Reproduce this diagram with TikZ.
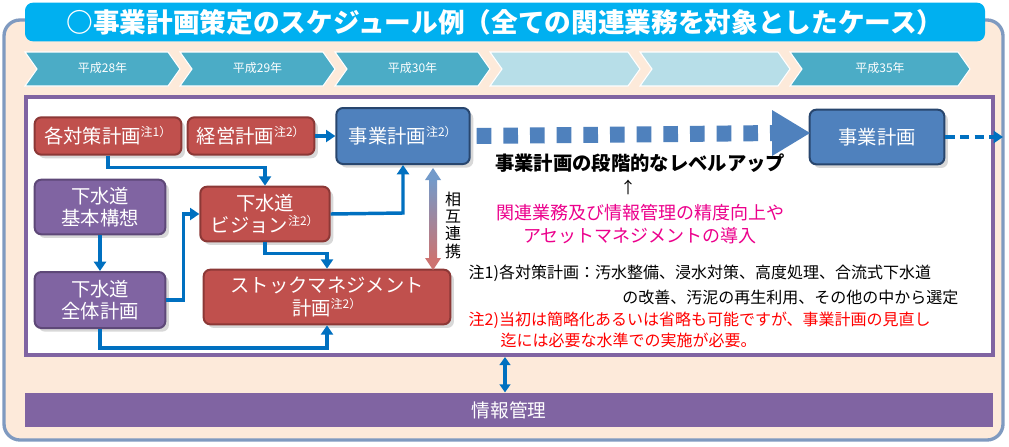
\documentclass[tikz,border=0pt]{standalone}
\usepackage{fontspec}
\setmainfont{Noto Sans CJK JP}
\usetikzlibrary{arrows.meta,shadows}
\definecolor{redfill}{RGB}{192,80,77}
\definecolor{redline}{RGB}{140,56,54}
\definecolor{purpfill}{RGB}{128,100,162}
\definecolor{purpline}{RGB}{94,72,120}
\definecolor{bluefill}{RGB}{79,129,189}
\definecolor{blueline}{RGB}{40,70,110}
\definecolor{arrowblue}{RGB}{0,112,192}
\definecolor{teal}{RGB}{75,172,198}
\definecolor{paleteal}{RGB}{183,222,232}
\definecolor{peach}{RGB}{253,234,218}
\definecolor{frameblue}{RGB}{127,154,192}
\definecolor{titlecyan}{RGB}{0,176,240}
\tikzset{
  redbox/.style={draw=redline,line width=1.5pt,fill=redfill,rounded corners=5pt,text=white,font=\fontsize{14.5}{17}\selectfont,align=center,inner sep=0pt,drop shadow={opacity=0.3}},
  purpbox/.style={redbox,draw=purpline,fill=purpfill},
  bluebox/.style={redbox,draw=blueline,fill=bluefill},
  flow/.style={arrowblue,line width=2.6pt,-{Triangle[length=7pt,width=9pt]}},
  chev/.style={draw=white,line width=0.8pt}
}
\newcommand{\note}[1]{\textsuperscript{\fontsize{9}{9}\selectfont 注#1）}}
\begin{document}
\begin{tikzpicture}[x=0.75pt,y=0.75pt,yscale=-1,xscale=1]
\useasboundingbox (0,0) rectangle (1009,446);
% frame
\draw [fill=peach,draw=frameblue,line width=2.5pt,rounded corners=12pt] (4,20) rectangle (1003,440);
\node [fill=titlecyan,rounded corners=6pt,minimum width=720pt,minimum height=29pt,text=white,font=\bfseries\fontsize{20}{24}\selectfont] (title) at (505,22) {○事業計画策定のスケジュール例（全ての関連業務を対象としたケース）};
% timeline
\foreach \xa/\xb/\col/\yr in {25/180/teal/平成28年,180/335/teal/平成29年,335/490/teal/平成30年,490/640/paleteal/,640/790/paleteal/,790/970/teal/平成35年}{
  \draw [chev,fill=\col] (\xa,52) -- (\xb-12,52) -- (\xb,69) -- (\xb-12,86) -- (\xa,86) -- (\xa+12,69) -- cycle;
  \node [text=white,font=\fontsize{9}{9}\selectfont] at ({(\xa+\xb)/2},68) {\yr};
}
% inner panel
\draw [fill=white,draw=purpfill,line width=3pt] (26,97) rectangle (993,355);
% boxes
\node [redbox,minimum width=110pt,minimum height=28pt] (taisaku) at (108,136) {各対策計画\note{1}};
\node [redbox,minimum width=95pt,minimum height=28pt] (keiei) at (251,136) {経営計画\note{2}};
\node [bluebox,minimum width=100pt,minimum height=42pt] (jigyo) at (403,136) {事業計画\note{2}};
\node [bluebox,minimum width=101pt,minimum height=41pt] (jigyo2) at (877,137) {事業計画};
\node [purpbox,minimum width=98pt,minimum height=41pt] (kousou) at (100,207) {下水道\\基本構想};
\node [purpbox,minimum width=98pt,minimum height=42pt] (zentai) at (100,300) {下水道\\全体計画};
\node [redbox,minimum width=97pt,minimum height=41pt] (vision) at (265,214) {下水道\\ビジョン\note{2}};
\node [redbox,minimum width=185pt,minimum height=41pt] (stock) at (327,297) {ストックマネジメント\\計画\note{2}};
\node [fill=purpfill,minimum width=726pt,minimum height=26pt,text=white,font=\fontsize{14}{17}\selectfont,inner sep=0pt] (joho) at (509,410) {情報管理};
% connectors
\draw [flow] (taisaku.south) -- ++(0,12) -| (vision.north);
\draw [flow] (keiei) -- (jigyo);
\draw [flow] (kousou) -- (zentai);
\draw [flow] (zentai.east) -- ++(17,0) |- (vision.west);
\draw [flow] (vision.east) -- (403,213) -- (jigyo.south);
\draw [flow] (vision.south) -- ++(0,11) -| (stock.north);
\draw [flow] (zentai.south) -- ++(0,19) -| (stock.south);
\draw [bluefill,line width=12pt,dash pattern=on 11pt off 9pt] (jigyo.east) ++(6,0) -- (778,133);
\fill [bluefill] (772,110) -- (810,133) -- (772,156) -- cycle;
\draw [arrowblue,line width=2.6pt,dash pattern=on 7pt off 4pt,-{Triangle[length=7pt,width=9pt]}] (jigyo2.east) -- (1003,137);
\shade [top color=bluefill!80,bottom color=redfill!80] (429,178) rectangle (437,260);
\fill [bluefill!80] (425,180) -- (433,168) -- (441,180) -- cycle;
\fill [redfill!80] (425,258) -- (433,270) -- (441,258) -- cycle;
\node [align=center,font=\fontsize{12}{13}\selectfont] (sogo) at (453,225) {相\\互\\連\\携};
\draw [arrowblue,line width=2.6pt,{Triangle[length=6pt,width=8pt]}-{Triangle[length=6pt,width=8pt]}] (505,357) -- (joho.north -| 505,0);
% texts
\node [font=\bfseries\fontsize{14.5}{16}\selectfont] (levelup) at (640,163) {事業計画の段階的なレベルアップ};
\node [font=\fontsize{12}{12}\selectfont] (up) at (628,187) {↑};
\node [text=magenta,align=center,font=\fontsize{13.5}{17}\selectfont] (seido) at (640,224) {関連業務及び情報管理の精度向上や\\アセットマネジメントの導入};
\node [anchor=west,font=\fontsize{12}{14}\selectfont] (note1) at (464,273) {注1)各対策計画：汚水整備、浸水対策、高度処理、合流式下水道};
\node [anchor=east,font=\fontsize{12}{14}\selectfont] (note1b) at (963,297) {の改善、汚泥の再生利用、その他の中から選定};
\node [anchor=west,text=red,font=\fontsize{12}{14}\selectfont] (note2) at (464,320) {注2)当初は簡略化あるいは省略も可能ですが、事業計画の見直し};
\node [anchor=west,text=red,font=\fontsize{12}{14}\selectfont] (note2b) at (496,340) {迄には必要な水準での実施が必要。};
\end{tikzpicture}
\end{document}
